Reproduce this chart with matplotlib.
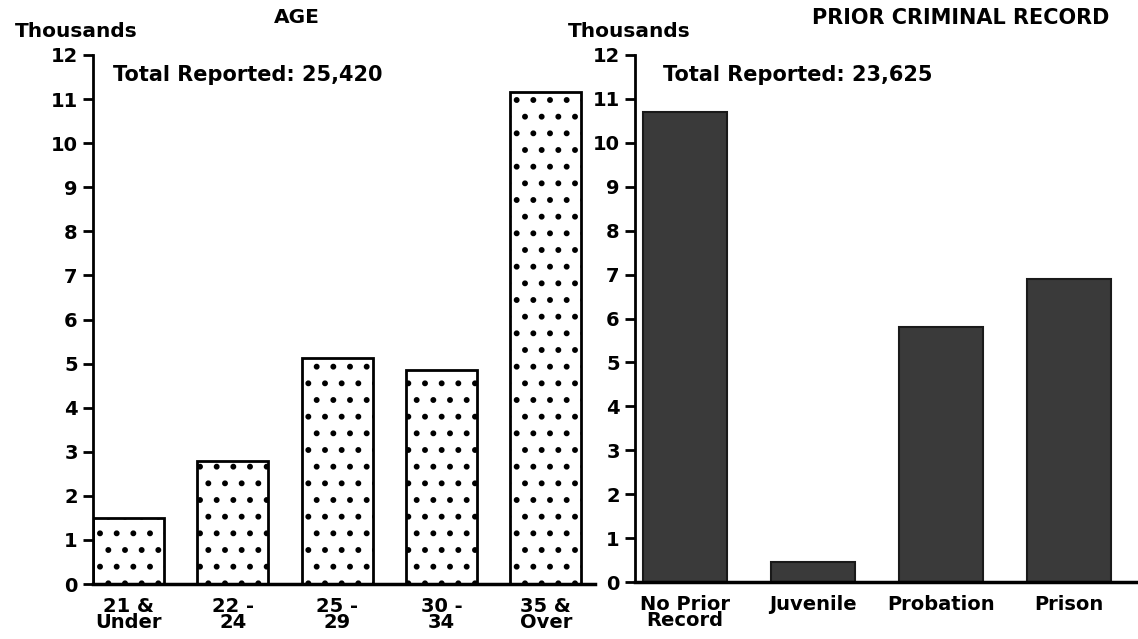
import matplotlib.pyplot as plt
import numpy as np

# Age panel
age_labels = ["21 &\nUnder", "22 -\n24", "25 -\n29", "30 -\n34", "35 &\nOver"]
age_values = [1.5, 2.8, 5.12, 4.85, 11.15]

# Prior criminal record panel
prior_labels = ["No Prior\nRecord", "Juvenile", "Probation", "Prison"]
prior_values = [10.7, 0.45, 5.8, 6.9]

yticks = list(range(0, 13))

plt.rcParams['font.family'] = ['DejaVu Sans']
plt.rcParams['font.weight'] = 'bold'
plt.rcParams['hatch.linewidth'] = 1.8

fig = plt.figure(figsize=(11.38, 6.39), dpi=100)
fig.patch.set_facecolor('white')

ax1 = fig.add_axes([0.0817, 0.086, 0.441, 0.828])
ax2 = fig.add_axes([0.558, 0.089, 0.442, 0.825])

# left
x1 = np.arange(len(age_values))
ax1.bar(x1, age_values, width=0.68, color='white', edgecolor='black',
        linewidth=2, hatch='.')
ax1.set_xlim(-0.34, 4.47)

# right
x2 = np.arange(len(prior_values))
ax2.bar(x2, prior_values, width=0.66, color='#3a3a3a', edgecolor='#1a1a1a',
        linewidth=1.5)
ax2.set_xlim(-0.39, 3.54)

for ax, x, labels in [(ax1, x1, age_labels), (ax2, x2, prior_labels)]:
    ax.set_ylim(0, 12)
    ax.set_yticks(yticks)
    ax.set_yticklabels([str(t) for t in yticks], fontsize=14, fontweight='bold')
    ax.set_xticks(x)
    ax.set_xticklabels(labels, fontsize=14, fontweight='bold', linespacing=0.85)
    ax.tick_params(axis='y', length=7, width=2, pad=4)
    ax.tick_params(axis='x', length=0, pad=9)
    ax.spines['top'].set_visible(False)
    ax.spines['right'].set_visible(False)
    ax.spines['left'].set_linewidth(2)
    ax.spines['bottom'].set_linewidth(2.5)
    ax.set_facecolor('none')

fig.text(0.013, 0.95, "Thousands", fontsize=14.5, fontweight='bold', va='center')
fig.text(0.261, 0.972, "AGE", fontsize=14.5, fontweight='bold', ha='center', va='center')
fig.text(0.499, 0.95, "Thousands", fontsize=14.5, fontweight='bold', va='center')
fig.text(0.844, 0.972, "PRIOR CRIMINAL RECORD", fontsize=15, fontweight='bold',
         ha='center', va='center')
fig.text(0.099, 0.883, "Total Reported: 25,420", fontsize=15, fontweight='bold', va='center')
fig.text(0.583, 0.883, "Total Reported: 23,625", fontsize=15, fontweight='bold', va='center')

plt.savefig("out.png", dpi=100)
